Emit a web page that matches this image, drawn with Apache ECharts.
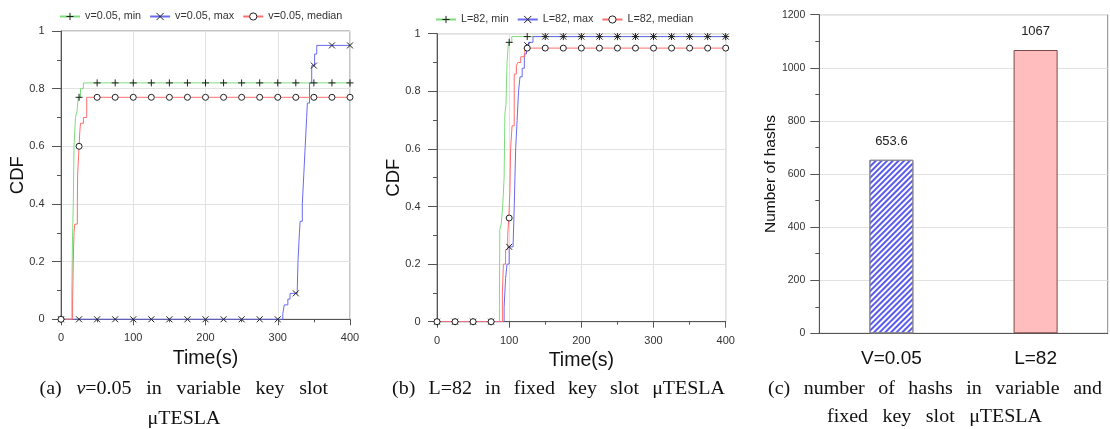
<!DOCTYPE html>
<html><head><meta charset="utf-8">
<script src="https://cdn.jsdelivr.net/npm/echarts@6/dist/echarts.min.js"></script>
<style>html,body{margin:0;padding:0;background:#fff}#c{width:1110px;height:429px}</style>
</head><body><div id="c"></div>
<script>
// ---------- DATA ----------
const markerTimes = [0,25,50,75,100,125,150,175,200,225,250,275,300,325,350,375,400];

// Panel (a): v=0.05, variable key slot
const aMinCurve = [[0,0],[15,0.1],[16,0.29],[17,0.4],[18,0.6],[20,0.7],[22,0.72],[24,0.77],[27,0.8],[31,0.82],[400,0.82]];
const aMaxCurve = [[0,0],[307,0.02],[309,0.05],[314,0.07],[317,0.09],[327,0.1],[328,0.2],[330,0.3],[331,0.34],[334,0.4],[336,0.5],[338,0.6],[340,0.7],[341,0.75],[344,0.82],[347,0.88],[351,0.92],[354,0.95],[400,0.95]];
const aMedCurve = [[0,0],[16,0.05],[17,0.2],[18,0.3],[19,0.33],[22.6,0.4],[23,0.5],[25,0.6],[26,0.65],[27,0.68],[31,0.7],[35.6,0.77],[400,0.77]];
const aMinMarks = [0,0.77,0.82,0.82,0.82,0.82,0.82,0.82,0.82,0.82,0.82,0.82,0.82,0.82,0.82,0.82,0.82];
const aMaxMarks = [0,0,0,0,0,0,0,0,0,0,0,0,0,0.09,0.88,0.95,0.95];
const aMedMarks = [0,0.6,0.77,0.77,0.77,0.77,0.77,0.77,0.77,0.77,0.77,0.77,0.77,0.77,0.77,0.77,0.77];

// Panel (b): L=82, fixed key slot
const bMinCurve = [[0,0],[86.5,0.05],[87,0.32],[89,0.34],[91,0.4],[93,0.5],[94,0.72],[95.5,0.75],[97,0.9],[99,0.97],[103.6,0.99],[400,0.99]];
const bMaxCurve = [[0,0],[93,0.05],[95,0.15],[97,0.2],[100,0.26],[105.5,0.27],[107,0.4],[109,0.6],[111,0.7],[113,0.8],[115,0.85],[118,0.88],[121,0.93],[124,0.96],[127,0.97],[133,0.99],[400,0.99]];
const bMedCurve = [[0,0],[90.6,0.1],[92,0.2],[95,0.25],[98,0.3],[99.4,0.36],[101,0.45],[102,0.6],[104,0.68],[107,0.86],[110,0.89],[112,0.9],[116,0.92],[121.7,0.95],[400,0.95]];
const bMinMarks = [0,0,0,0,0.97,0.99,0.99,0.99,0.99,0.99,0.99,0.99,0.99,0.99,0.99,0.99,0.99];
const bMaxMarks = [0,0,0,0,0.26,0.96,0.99,0.99,0.99,0.99,0.99,0.99,0.99,0.99,0.99,0.99,0.99];
const bMedMarks = [0,0,0,0,0.36,0.95,0.95,0.95,0.95,0.95,0.95,0.95,0.95,0.95,0.95,0.95,0.95];

// Panel (c): number of hashs
const hashCategories = ['V=0.05','L=82'];
const hashValues = [653.6, 1067];

// ---------- STYLE ----------
const SANS = '"Liberation Sans", Arial, sans-serif';
const SERIF = '"Liberation Serif", "Times New Roman", serif';
const GREEN = '#7edc7e', BLUE = '#6a6af2', RED = '#ff6e6e', MARK = '#222';
const PLUS = 'path://M5,0L5,10M0,5L10,5';
const CROSS = 'path://M0,0L10,10M0,10L10,0';

function zip(ts, vs){ return ts.map((t,i)=>[t, vs[i]]); }

function curveSeries(name, data, color, symbol, gi, fill){
  return {
    type:'line', name, data, xAxisIndex:gi, yAxisIndex:gi,
    step:'end', showSymbol:false, symbol, symbolSize:7,
    lineStyle:{color, width:1},
    itemStyle:{color: fill, borderColor:MARK, borderWidth:1},
    emphasis:{disabled:true}, z:2
  };
}
function markSeries(name, data, symbol, gi, fill, size){
  return {
    type:'scatter', name, data, xAxisIndex:gi, yAxisIndex:gi,
    symbol, symbolSize:size,
    itemStyle:{color: fill, borderColor:MARK, borderWidth:1, opacity:1},
    emphasis:{disabled:true}, z:3
  };
}

function cdfX(gi){
  return {
    type:'value', gridIndex:gi, min:0, max:400, interval:100,
    name:'Time(s)', nameLocation:'middle', nameGap:29, nameMoveOverlap:false,
    nameTextStyle:{fontSize:19.5, color:'#111', fontFamily:SANS},
    axisLine:{show:true, onZero:false, lineStyle:{color:'#555', width:1}},
    axisTick:{show:true, length:6, lineStyle:{color:'#555'}},
    minorTick:{show:true, splitNumber:2, length:3, lineStyle:{color:'#555'}},
    splitLine:{show:true, lineStyle:{color:'#e2e2e2'}},
    axisLabel:{fontSize:11, color:'#333', margin:13.5, fontFamily:SANS}
  };
}
function cdfY(gi){
  return {
    type:'value', gridIndex:gi, min:0, max:1, interval:0.2,
    name:'CDF', nameLocation:'middle', nameGap:34, nameMoveOverlap:false,
    nameTextStyle:{fontSize:18.5, color:'#111', fontFamily:SANS},
    axisLine:{show:true, onZero:false, lineStyle:{color:'#555', width:1}},
    axisTick:{show:true, length:9, lineStyle:{color:'#555'}},
    minorTick:{show:true, splitNumber:2, length:4, lineStyle:{color:'#555'}},
    splitLine:{show:true, lineStyle:{color:'#e2e2e2'}},
    axisLabel:{fontSize:11, color:'#333', margin:16.5, fontFamily:SANS}
  };
}

// ---------- CAPTIONS ----------
const CAP_SIZE = 18.5, SX = 1.08;
const cv = document.createElement('canvas').getContext('2d');
function segW(g){ cv.font = (g.it?'italic ':'') + CAP_SIZE + 'px ' + SERIF; return cv.measureText(g.t).width * SX; }
function captionLine(words, x0, x1, y, center){
  const W = words.map(w => typeof w === 'string' ? [{t:w}] : w);
  const widths = W.map(w => w.reduce((s,g)=>s+segW(g),0));
  const total = widths.reduce((a,b)=>a+b,0);
  const gap = (!center && W.length>1) ? (x1-x0-total)/(W.length-1) : 0;
  let x = (!center && W.length>1) ? x0 : (x0+x1-total)/2;
  const els = [];
  W.forEach((w,i)=>{
    let xx = x;
    w.forEach(g=>{
      els.push({type:'text', x:xx, y:y, scaleX:SX, silent:true,
        style:{text:g.t, fill:'#111', fontSize:CAP_SIZE, fontFamily:SERIF,
               fontStyle:g.it?'italic':'normal', align:'left', verticalAlign:'middle'}});
      xx += segW(g);
    });
    x += widths[i] + gap;
  });
  return els;
}
const captions = [].concat(
  captionLine(['(a)', [{t:'v',it:true},{t:'=0.05'}], 'in', 'variable', 'key', 'slot'], 39.5, 328, 389),
  captionLine(['μTESLA'], 146, 222, 419, true),
  captionLine(['(b)', 'L=82', 'in', 'fixed', 'key', 'slot', 'μTESLA'], 392, 725, 389),
  captionLine(['(c)', 'number', 'of', 'hashs', 'in', 'variable', 'and'], 768, 1102, 389),
  captionLine(['fixed', 'key', 'slot', 'μTESLA'], 827, 1042, 417)
);

// ---------- CHART ----------
const chart = echarts.init(document.getElementById('c'), null, {renderer:'canvas'});
const gridBase = {show:true, borderColor:'#8a8a8a', borderWidth:1, backgroundColor:'transparent', containLabel:false, outerBoundsMode:'none'};
const legendBase = {itemWidth:20, itemHeight:9, itemGap:8, padding:0, selectedMode:false,
  textStyle:{fontSize:10.8, color:'#333', fontFamily:SANS}, itemStyle:{borderWidth:1}};
const option = {
  animation:false,
  backgroundColor:'#fff',
  textStyle:{fontFamily:SANS},
  grid:[
    Object.assign({left:61, right:760, top:31, bottom:109.7}, gridBase),
    Object.assign({left:437, right:384.3, top:33.7, bottom:107.3}, gridBase),
    Object.assign({left:819.3, right:2.3, top:14.7, bottom:95.7}, gridBase)
  ],
  legend:[
    Object.assign({left:59, top:11, data:['v=0.05, min','v=0.05, max','v=0.05, median']}, legendBase),
    Object.assign({left:435, top:14, data:['L=82, min','L=82, max','L=82, median']}, legendBase)
  ],
  xAxis:[
    cdfX(0), cdfX(1),
    {type:'category', gridIndex:2, data:hashCategories,
     axisLine:{show:true, lineStyle:{color:'#555'}}, axisTick:{show:false},
     axisLabel:{fontSize:19, color:'#111', margin:16, fontFamily:SANS},
     splitLine:{show:false}}
  ],
  yAxis:[
    cdfY(0), cdfY(1),
    {type:'value', gridIndex:2, min:0, max:1200, interval:200,
     name:'Number of hashs', nameLocation:'middle', nameGap:41, nameMoveOverlap:false,
     nameTextStyle:{fontSize:15.5, color:'#111', fontFamily:SANS},
     axisLine:{show:true, lineStyle:{color:'#555'}},
     axisTick:{show:true, length:9, lineStyle:{color:'#555'}},
     minorTick:{show:true, splitNumber:2, length:4, lineStyle:{color:'#555'}},
     splitLine:{show:true, lineStyle:{color:'#e2e2e2'}},
     axisLabel:{fontSize:10.5, color:'#333', margin:14, fontFamily:SANS, formatter:v=>String(v)}}
  ],
  series:[
    curveSeries('v=0.05, min', aMinCurve, GREEN, PLUS, 0, MARK),
    curveSeries('v=0.05, max', aMaxCurve, BLUE, CROSS, 0, MARK),
    curveSeries('v=0.05, median', aMedCurve, RED, 'circle', 0, '#fff'),
    markSeries('v=0.05, min', zip(markerTimes, aMinMarks), PLUS, 0, MARK, 7),
    markSeries('v=0.05, max', zip(markerTimes, aMaxMarks), CROSS, 0, MARK, 6),
    markSeries('v=0.05, median', zip(markerTimes, aMedMarks), 'circle', 0, '#fff', 6),
    curveSeries('L=82, min', bMinCurve, GREEN, PLUS, 1, MARK),
    curveSeries('L=82, max', bMaxCurve, BLUE, CROSS, 1, MARK),
    curveSeries('L=82, median', bMedCurve, RED, 'circle', 1, '#fff'),
    markSeries('L=82, min', zip(markerTimes, bMinMarks), PLUS, 1, MARK, 7),
    markSeries('L=82, max', zip(markerTimes, bMaxMarks), CROSS, 1, MARK, 6),
    markSeries('L=82, median', zip(markerTimes, bMedMarks), 'circle', 1, '#fff', 6),
    {type:'bar', name:'hashs', xAxisIndex:2, yAxisIndex:2, barWidth:44,
     data:[
       {value:hashValues[0], itemStyle:{color:'#ffffff', borderColor:'#8a8a8a', borderWidth:1,
         decal:{symbol:'rect', symbolSize:1, color:'#5a5aee', dashArrayX:[1,0], dashArrayY:[1.4,1.6], rotation:-Math.PI/4}}},
       {value:hashValues[1], itemStyle:{color:'#ffbdbd', borderColor:'#7a4848', borderWidth:1}}
     ],
     label:{show:true, position:'top', distance:12, fontSize:13, color:'#222', fontFamily:SANS},
     emphasis:{disabled:true}}
  ],
  graphic: captions
};
chart.setOption(option);
</script>
</body></html>
